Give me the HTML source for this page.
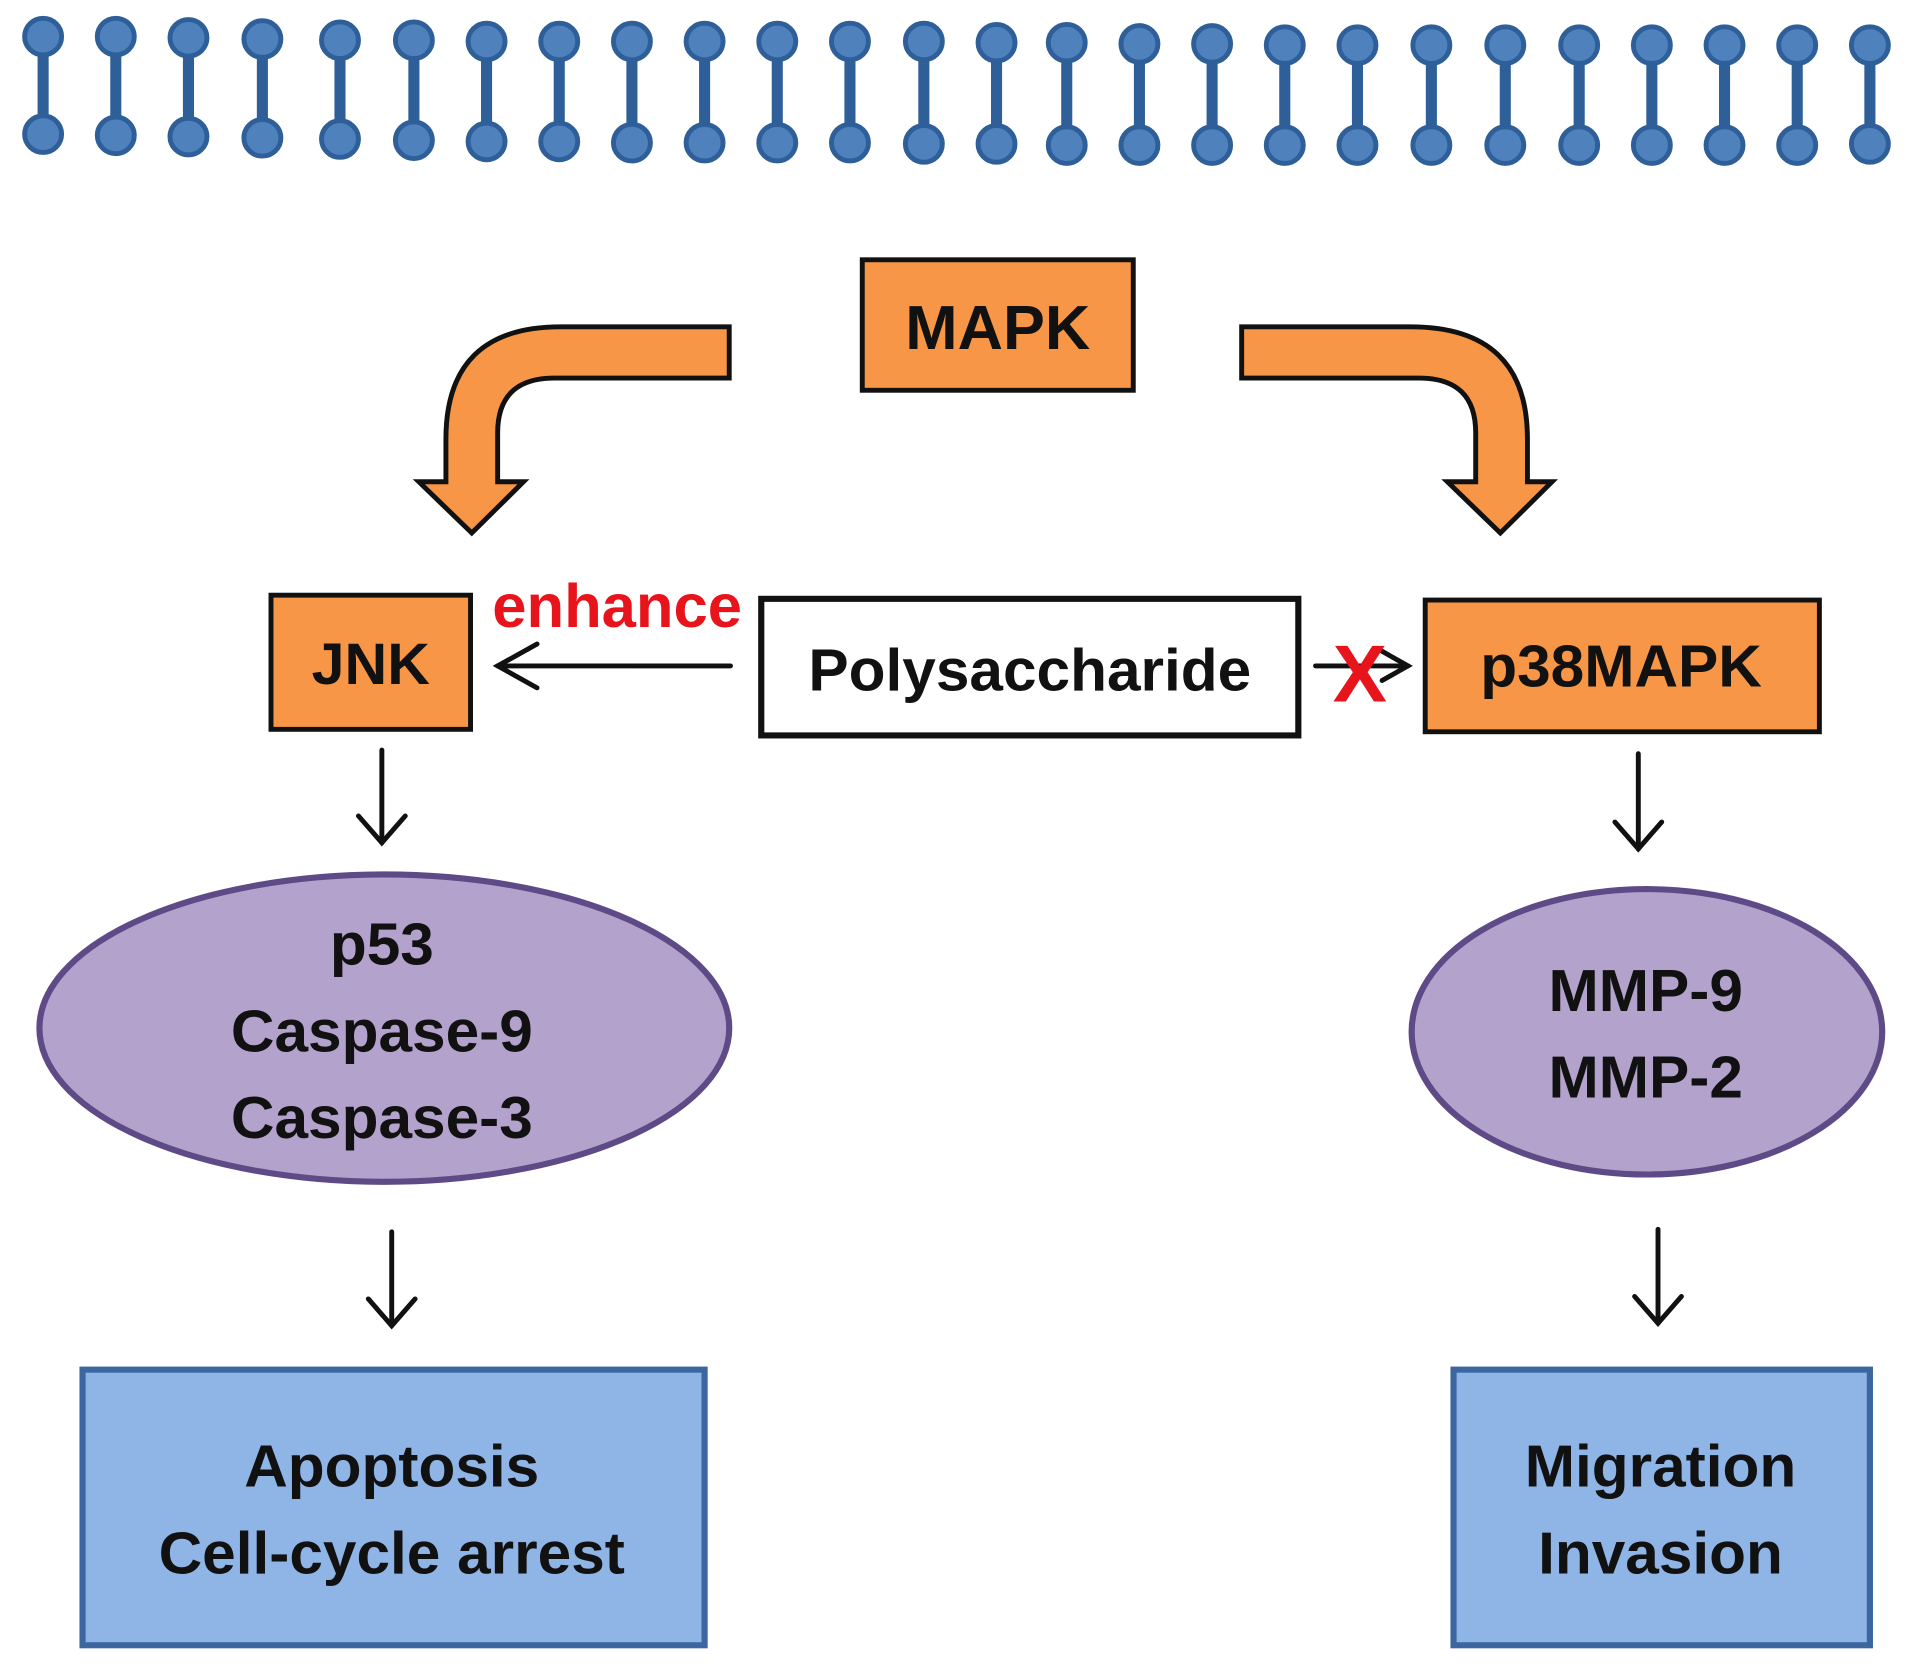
<!DOCTYPE html>
<html><head><meta charset="utf-8"><style>
html,body{margin:0;padding:0;background:#fff;}
svg{display:block;}
text{font-family:"Liberation Sans",sans-serif;font-weight:bold;fill:#111;text-anchor:middle;}
</style></head><body>
<svg width="1913" height="1666" viewBox="0 0 1553 1366" preserveAspectRatio="none" xmlns="http://www.w3.org/2000/svg">
<g stroke="#2f5f99" stroke-width="9" fill="#4f81bd">
<line x1="35" y1="30" x2="35" y2="110"/><circle cx="35" cy="30" r="15" stroke-width="4"/><circle cx="35" cy="110" r="15" stroke-width="4"/>
<line x1="94" y1="30" x2="94" y2="111"/><circle cx="94" cy="30" r="15" stroke-width="4"/><circle cx="94" cy="111" r="15" stroke-width="4"/>
<line x1="153" y1="31" x2="153" y2="112"/><circle cx="153" cy="31" r="15" stroke-width="4"/><circle cx="153" cy="112" r="15" stroke-width="4"/>
<line x1="213" y1="32" x2="213" y2="113"/><circle cx="213" cy="32" r="15" stroke-width="4"/><circle cx="213" cy="113" r="15" stroke-width="4"/>
<line x1="276" y1="33" x2="276" y2="114"/><circle cx="276" cy="33" r="15" stroke-width="4"/><circle cx="276" cy="114" r="15" stroke-width="4"/>
<line x1="336" y1="33" x2="336" y2="115"/><circle cx="336" cy="33" r="15" stroke-width="4"/><circle cx="336" cy="115" r="15" stroke-width="4"/>
<line x1="395" y1="34" x2="395" y2="116"/><circle cx="395" cy="34" r="15" stroke-width="4"/><circle cx="395" cy="116" r="15" stroke-width="4"/>
<line x1="454" y1="34" x2="454" y2="116"/><circle cx="454" cy="34" r="15" stroke-width="4"/><circle cx="454" cy="116" r="15" stroke-width="4"/>
<line x1="513" y1="34" x2="513" y2="117"/><circle cx="513" cy="34" r="15" stroke-width="4"/><circle cx="513" cy="117" r="15" stroke-width="4"/>
<line x1="572" y1="34" x2="572" y2="117"/><circle cx="572" cy="34" r="15" stroke-width="4"/><circle cx="572" cy="117" r="15" stroke-width="4"/>
<line x1="631" y1="34" x2="631" y2="117"/><circle cx="631" cy="34" r="15" stroke-width="4"/><circle cx="631" cy="117" r="15" stroke-width="4"/>
<line x1="690" y1="34" x2="690" y2="117"/><circle cx="690" cy="34" r="15" stroke-width="4"/><circle cx="690" cy="117" r="15" stroke-width="4"/>
<line x1="750" y1="34" x2="750" y2="118"/><circle cx="750" cy="34" r="15" stroke-width="4"/><circle cx="750" cy="118" r="15" stroke-width="4"/>
<line x1="809" y1="35" x2="809" y2="118"/><circle cx="809" cy="35" r="15" stroke-width="4"/><circle cx="809" cy="118" r="15" stroke-width="4"/>
<line x1="866" y1="35" x2="866" y2="119"/><circle cx="866" cy="35" r="15" stroke-width="4"/><circle cx="866" cy="119" r="15" stroke-width="4"/>
<line x1="925" y1="36" x2="925" y2="119"/><circle cx="925" cy="36" r="15" stroke-width="4"/><circle cx="925" cy="119" r="15" stroke-width="4"/>
<line x1="984" y1="36" x2="984" y2="119"/><circle cx="984" cy="36" r="15" stroke-width="4"/><circle cx="984" cy="119" r="15" stroke-width="4"/>
<line x1="1043" y1="37" x2="1043" y2="119"/><circle cx="1043" cy="37" r="15" stroke-width="4"/><circle cx="1043" cy="119" r="15" stroke-width="4"/>
<line x1="1102" y1="37" x2="1102" y2="119"/><circle cx="1102" cy="37" r="15" stroke-width="4"/><circle cx="1102" cy="119" r="15" stroke-width="4"/>
<line x1="1162" y1="37" x2="1162" y2="119"/><circle cx="1162" cy="37" r="15" stroke-width="4"/><circle cx="1162" cy="119" r="15" stroke-width="4"/>
<line x1="1222" y1="37" x2="1222" y2="119"/><circle cx="1222" cy="37" r="15" stroke-width="4"/><circle cx="1222" cy="119" r="15" stroke-width="4"/>
<line x1="1282" y1="37" x2="1282" y2="119"/><circle cx="1282" cy="37" r="15" stroke-width="4"/><circle cx="1282" cy="119" r="15" stroke-width="4"/>
<line x1="1341" y1="37" x2="1341" y2="119"/><circle cx="1341" cy="37" r="15" stroke-width="4"/><circle cx="1341" cy="119" r="15" stroke-width="4"/>
<line x1="1400" y1="37" x2="1400" y2="119"/><circle cx="1400" cy="37" r="15" stroke-width="4"/><circle cx="1400" cy="119" r="15" stroke-width="4"/>
<line x1="1459" y1="37" x2="1459" y2="119"/><circle cx="1459" cy="37" r="15" stroke-width="4"/><circle cx="1459" cy="119" r="15" stroke-width="4"/>
<line x1="1518" y1="37" x2="1518" y2="118"/><circle cx="1518" cy="37" r="15" stroke-width="4"/><circle cx="1518" cy="118" r="15" stroke-width="4"/>
</g>

<rect x="700" y="213" width="220" height="107" fill="#f79646" stroke="#111" stroke-width="4"/>
<text x="810" y="286" font-size="51">MAPK</text>

<path d="M592 268 L455 268 Q362 268 362 360 L362 395 L340 395 L383 437 L425 395 L404 395 L404 355 Q404 310 450 310 L592 310 Z" fill="#f79646" stroke="#111" stroke-width="4"/>
<path d="M1008 268 L1145 268 Q1240 268 1240 360 L1240 395 L1260 395 L1218 437 L1175 395 L1198 395 L1198 355 Q1198 310 1152 310 L1008 310 Z" fill="#f79646" stroke="#111" stroke-width="4"/>

<rect x="220" y="488" width="162" height="110" fill="#f79646" stroke="#111" stroke-width="4"/>
<text x="301" y="561" font-size="48">JNK</text>
<text x="501" y="514" font-size="50" style="fill:#e8141c">enhance</text>

<rect x="618" y="491" width="436" height="112" fill="#fff" stroke="#111" stroke-width="5"/>
<text x="836" y="566" font-size="49">Polysaccharide</text>

<rect x="1157" y="492" width="320" height="108" fill="#f79646" stroke="#111" stroke-width="4"/>
<text x="1316" y="563" font-size="49">p38MAPK</text>

<g stroke="#111" stroke-width="4" fill="none" stroke-linecap="round">
<line x1="593" y1="546" x2="404" y2="546"/><polyline points="436,528 404,546 436,564"/>
<line x1="1068" y1="546" x2="1143" y2="546"/><polyline points="1122,534 1143,546 1122,558"/>
</g>
<text x="1104" y="575" font-size="66" style="fill:#e8141c">X</text>

<g stroke="#111" stroke-width="4" fill="none" stroke-linecap="round">
<line x1="310" y1="615" x2="310" y2="691"/><polyline points="291,669 310,691 329,669"/>
<line x1="1330" y1="618" x2="1330" y2="696"/><polyline points="1311,674 1330,696 1349,674"/>
<line x1="318" y1="1010" x2="318" y2="1087"/><polyline points="299,1065 318,1087 337,1065"/>
<line x1="1346" y1="1008" x2="1346" y2="1085"/><polyline points="1327,1063 1346,1085 1365,1063"/>
</g>

<ellipse cx="312" cy="843" rx="280" ry="126" fill="#b3a2cc" stroke="#5e4a86" stroke-width="5"/>
<text x="310" y="791" font-size="49">p53</text>
<text x="310" y="862" font-size="49">Caspase-9</text>
<text x="310" y="933" font-size="49">Caspase-3</text>
<ellipse cx="1337" cy="846" rx="191" ry="117" fill="#b3a2cc" stroke="#5e4a86" stroke-width="5"/>
<text x="1336" y="829" font-size="49">MMP-9</text>
<text x="1336" y="900" font-size="49">MMP-2</text>

<rect x="67" y="1123" width="505" height="226" fill="#8fb4e6" stroke="#3c66a0" stroke-width="5"/>
<text x="318" y="1219" font-size="49">Apoptosis</text>
<text x="318" y="1290" font-size="49">Cell-cycle arrest</text>
<rect x="1180" y="1123" width="338" height="226" fill="#8fb4e6" stroke="#3c66a0" stroke-width="5"/>
<text x="1348" y="1219" font-size="49">Migration</text>
<text x="1348" y="1290" font-size="49">Invasion</text>
</svg>
</body></html>
